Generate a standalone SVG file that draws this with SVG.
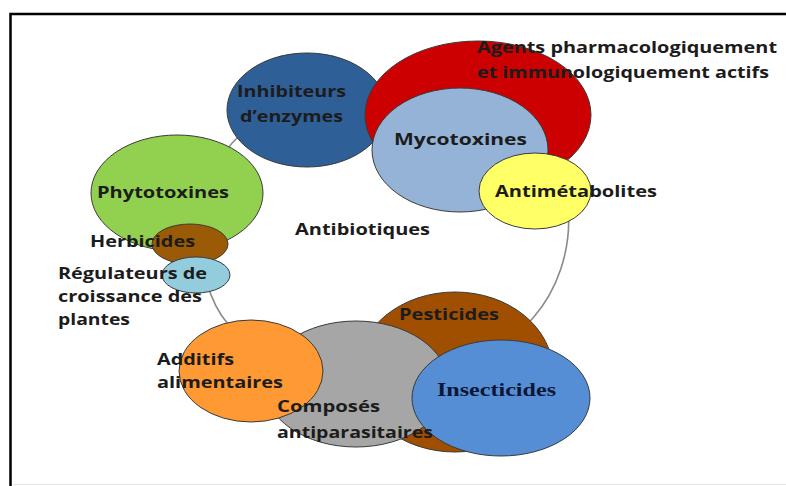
<svg xmlns="http://www.w3.org/2000/svg" width="786" height="486" viewBox="0 0 786 486">
<style>
.n{stroke:#3a3a3a;stroke-width:1}
.t{font-family:"Open Sans","Liberation Sans",sans-serif;font-weight:700;font-size:16px;fill:#1c1c1c}
.s{font-family:"Liberation Serif","Times New Roman",serif;font-weight:700;font-size:19px;fill:#0b1736}
</style>
<rect width="786" height="486" fill="#ffffff"/>
<path d="M10.5,486 V14 H786" fill="none" stroke="#000" stroke-width="2.5"/>
<line x1="13" y1="484.5" x2="786" y2="484.5" stroke="#e6e6e6" stroke-width="1"/>
<g id="connectors">
<path d="M240,135 C290,100 460,80 530,130 C578,165 584,260 533,318 C480,380 300,380 228,324 C190,280 190,180 240,135 Z" fill="none" stroke="#8a8a8a" stroke-width="1.6"/>
</g>
<g id="inhibiteurs"><ellipse class="n" cx="307" cy="110" rx="80" ry="57" fill="#2F5F97"/></g>
<g id="agents"><ellipse class="n" cx="478" cy="115" rx="113" ry="74" fill="#CC0000"/></g>
<g id="mycotoxines"><ellipse class="n" cx="460" cy="150" rx="88" ry="62" fill="#95B3D7"/></g>
<g id="antimetabolites"><ellipse class="n" cx="535" cy="191" rx="56" ry="38" fill="#FFFF66"/></g>
<g id="phytotoxines"><ellipse class="n" cx="177" cy="193" rx="86" ry="58" fill="#92D050"/></g>
<g id="herbicides"><ellipse class="n" cx="190" cy="244" rx="38" ry="20" fill="#9B5A05"/></g>
<g id="regulateurs"><ellipse class="n" cx="196" cy="275" rx="34" ry="18" fill="#93CDDD"/></g>
<g id="pesticides"><ellipse class="n" cx="455" cy="372" rx="98" ry="80" fill="#A04F00"/></g>
<g id="composes"><ellipse class="n" cx="356" cy="384" rx="92" ry="63" fill="#A6A6A6"/></g>
<g id="additifs"><ellipse class="n" cx="251" cy="371" rx="72" ry="51" fill="#FF9933"/></g>
<g id="insecticides"><ellipse class="n" cx="501" cy="398" rx="89" ry="58" fill="#558ED5"/></g>
<g id="labels">
<g id="inhibiteurs-label"><text class="t" x="237" y="97" textLength="109" lengthAdjust="spacingAndGlyphs">Inhibiteurs</text><text class="t" x="240" y="122" textLength="103" lengthAdjust="spacingAndGlyphs">d’enzymes</text></g>
<g id="agents-label"><text class="t" x="477" y="53" textLength="300" lengthAdjust="spacingAndGlyphs">Agents pharmacologiquement</text><text class="t" x="477" y="78" textLength="292" lengthAdjust="spacingAndGlyphs">et immunologiquement actifs</text></g>
<g id="mycotoxines-label"><text class="t" x="394" y="145" textLength="133" lengthAdjust="spacingAndGlyphs">Mycotoxines</text></g>
<g id="antimetabolites-label"><text class="t" x="495" y="197" textLength="162" lengthAdjust="spacingAndGlyphs">Antimétabolites</text></g>
<g id="phytotoxines-label"><text class="t" x="97" y="198" textLength="132" lengthAdjust="spacingAndGlyphs">Phytotoxines</text></g>
<g id="antibiotiques-label"><text class="t" x="295" y="235" textLength="135" lengthAdjust="spacingAndGlyphs">Antibiotiques</text></g>
<g id="herbicides-label"><text class="t" x="90" y="247" textLength="105" lengthAdjust="spacingAndGlyphs">Herbicides</text></g>
<g id="regulateurs-label"><text class="t" x="58" y="279" textLength="149" lengthAdjust="spacingAndGlyphs">Régulateurs de</text><text class="t" x="58" y="302" textLength="144" lengthAdjust="spacingAndGlyphs">croissance des</text><text class="t" x="58" y="325" textLength="72" lengthAdjust="spacingAndGlyphs">plantes</text></g>
<g id="pesticides-label"><text class="t" x="399" y="320" textLength="100" lengthAdjust="spacingAndGlyphs">Pesticides</text></g>
<g id="additifs-label"><text class="t" x="157" y="365" textLength="77" lengthAdjust="spacingAndGlyphs">Additifs</text><text class="t" x="157" y="388" textLength="126" lengthAdjust="spacingAndGlyphs">alimentaires</text></g>
<g id="composes-label"><text class="t" x="277" y="412" textLength="103" lengthAdjust="spacingAndGlyphs">Composés</text><text class="t" x="277" y="438" textLength="156" lengthAdjust="spacingAndGlyphs">antiparasitaires</text></g>
<g id="insecticides-label"><text class="s" x="437" y="396" textLength="119" lengthAdjust="spacingAndGlyphs">Insecticides</text></g>
</g>
</svg>
